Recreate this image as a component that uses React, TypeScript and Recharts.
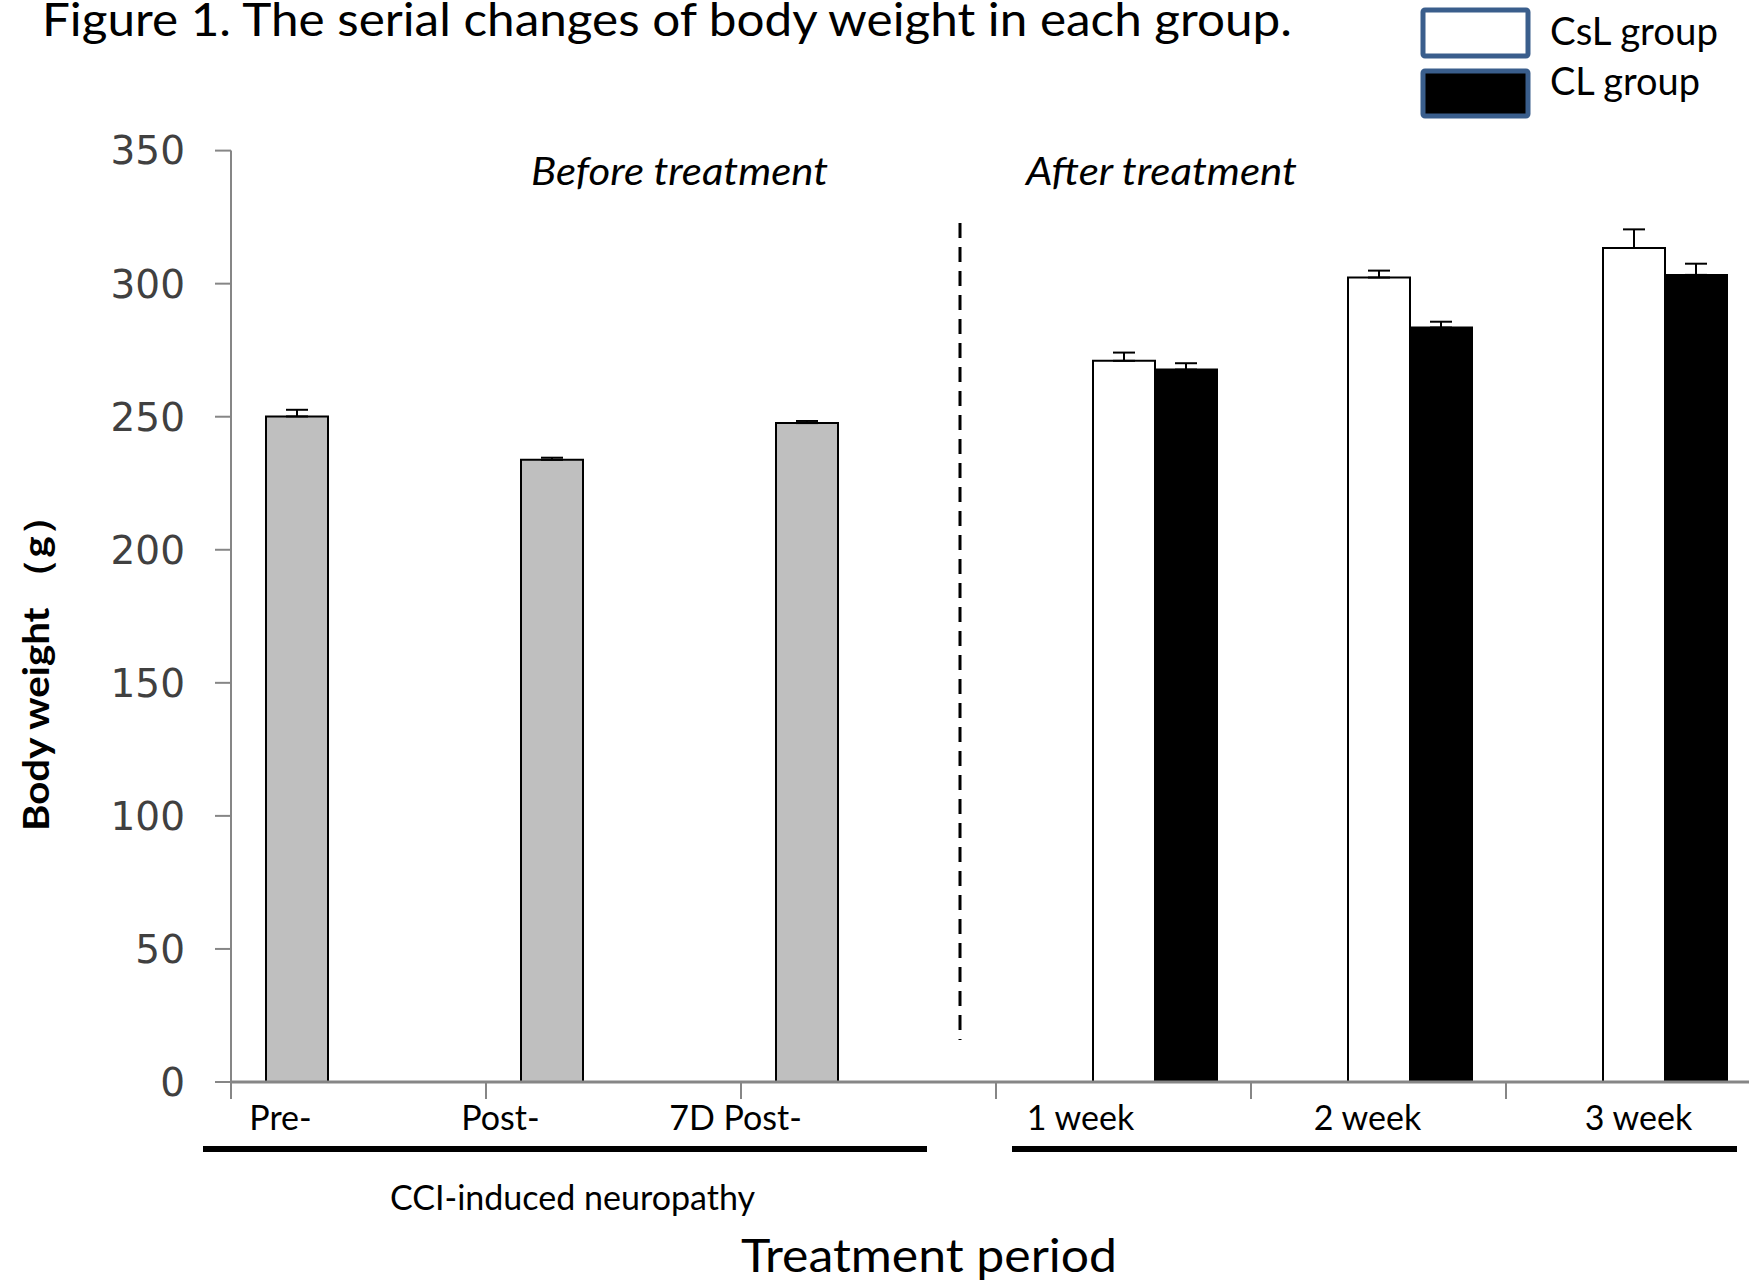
import { BarChart, Bar, XAxis, YAxis, ErrorBar } from "recharts";

// values (g)
const categories = ["Pre-", "Post-", "7D Post-", "1 week", "2 week", "3 week"];
const cciValues = [250.1, 233.8, 247.6, null, null, null];
const cciErrors = [2.5, 0.8, 0.8, null, null, null];
const cslValues = [null, null, null, 271.0, 302.3, 313.4];
const cslErrors = [null, null, null, 3.1, 2.6, 7.0];
const clValues = [null, null, null, 267.7, 283.5, 303.3];
const clErrors = [null, null, null, 2.4, 2.2, 4.2];
const yTicks = [0, 50, 100, 150, 200, 250, 300, 350];

// labels in the original sit off-centre under each category
const tickLabelShift = [-78, -113, -133, -43, -11, 5];

const upOnly = (e: number | null) => (e == null ? null : [0, e]);

const data = categories.map((name, i) => ({
  name,
  cci: cciValues[i],
  cciErr: upOnly(cciErrors[i]),
  csl: cslValues[i],
  cslErr: upOnly(cslErrors[i]),
  cl: clValues[i],
  clErr: upOnly(clErrors[i]),
}));

const FONT = "Lato, 'Open Sans', sans-serif";
const AXIS_GRAY = "#868686";

function CategoryTick(props: any) {
  const { x, y, payload, index } = props;
  const half = payload?.offset ?? 127.5;
  const bx = x - half;
  return (
    <g>
      <line x1={bx} x2={bx} y1={y} y2={y + 17} stroke={AXIS_GRAY} strokeWidth={2} />
      <text
        x={x + tickLabelShift[index]}
        y={y + 48}
        textAnchor="middle"
        fontFamily={FONT}
        fontSize={34}
        fill="#000"
      >
        {payload.value}
      </text>
    </g>
  );
}

function Overlay() {
  return (
    <svg
      width={1749}
      height={1284}
      style={{ position: "absolute", left: 0, top: 0, pointerEvents: "none" }}
    >
      <text x={42} y={36} fontFamily={FONT} fontSize={46} textLength={1250} lengthAdjust="spacingAndGlyphs">
        Figure 1. The serial changes of body weight in each group.
      </text>

      {/* legend */}
      <rect x={1423} y={10} width={105} height={46} rx={2} fill="#fff" stroke="#3A5E8C" strokeWidth={5} />
      <rect x={1423} y={71} width={105} height={45} rx={2} fill="#000" stroke="#3A5E8C" strokeWidth={5} />
      <text x={1550} y={45} fontFamily={FONT} fontSize={38} textLength={168} lengthAdjust="spacingAndGlyphs">
        CsL group
      </text>
      <text x={1550} y={95} fontFamily={FONT} fontSize={38} textLength={150} lengthAdjust="spacingAndGlyphs">
        CL group
      </text>

      <text x={531} y={185} fontFamily={FONT} fontStyle="italic" fontSize={38} textLength={297} lengthAdjust="spacingAndGlyphs">
        Before treatment
      </text>
      <text x={1026} y={185} fontFamily={FONT} fontStyle="italic" fontSize={38} textLength={271} lengthAdjust="spacingAndGlyphs">
        After treatment
      </text>

      <line x1={960} x2={960} y1={223} y2={1040} stroke="#000" strokeWidth={3} strokeDasharray="15 9" />

      <line x1={203} x2={927} y1={1149} y2={1149} stroke="#000" strokeWidth={6} />
      <line x1={1012} x2={1737} y1={1149} y2={1149} stroke="#000" strokeWidth={6} />

      <text x={390} y={1210} fontFamily={FONT} fontSize={34} textLength={365} lengthAdjust="spacingAndGlyphs">
        CCI-induced neuropathy
      </text>
      <text x={741} y={1272} fontFamily={FONT} fontSize={46} textLength={376} lengthAdjust="spacingAndGlyphs">
        Treatment period
      </text>

      <text
        transform="translate(49, 831) rotate(-90)"
        x={0}
        y={0}
        fontFamily={FONT}
        fontWeight="bold"
        fontSize={36}
        textLength={335}
        lengthAdjust="spacingAndGlyphs"
      >
        Body weight （g）
      </text>
    </svg>
  );
}

export default function App() {
  return (
    <div
      style={{
        position: "absolute",
        left: 0,
        top: 0,
        width: 1749,
        height: 1284,
        overflow: "hidden",
        background: "#fff",
      }}
    >
      <BarChart
        width={1770}
        height={1284}
        data={data}
        margin={{ top: 150.6, right: 9, left: 0, bottom: 142 }}
        barGap={0}
        barSize={62}
      >
        <XAxis
          dataKey="name"
          height={60}
          stroke={AXIS_GRAY}
          strokeWidth={3}
          tickLine={false}
          tickSize={0}
          tickMargin={0}
          tick={<CategoryTick />}
          interval={0}
        />
        <YAxis
          width={231}
          domain={[0, 350]}
          ticks={yTicks}
          stroke={AXIS_GRAY}
          strokeWidth={2}
          tickSize={16}
          tickMargin={30}
          tick={{ fill: "#404040", fontSize: 39, fontFamily: "'DejaVu Sans', sans-serif" }}
        />
        <Bar dataKey="cci" fill="#BFBFBF" stroke="#000" strokeWidth={2} isAnimationActive={false}>
          <ErrorBar dataKey="cciErr" width={11} stroke="#000" strokeWidth={2} direction="y" />
        </Bar>
        <Bar dataKey="csl" fill="#FFFFFF" stroke="#000" strokeWidth={2} isAnimationActive={false}>
          <ErrorBar dataKey="cslErr" width={11} stroke="#000" strokeWidth={2} direction="y" />
        </Bar>
        <Bar dataKey="cl" fill="#000000" stroke="#000" strokeWidth={2} isAnimationActive={false}>
          <ErrorBar dataKey="clErr" width={11} stroke="#000" strokeWidth={2} direction="y" />
        </Bar>
      </BarChart>
      <Overlay />
    </div>
  );
}
